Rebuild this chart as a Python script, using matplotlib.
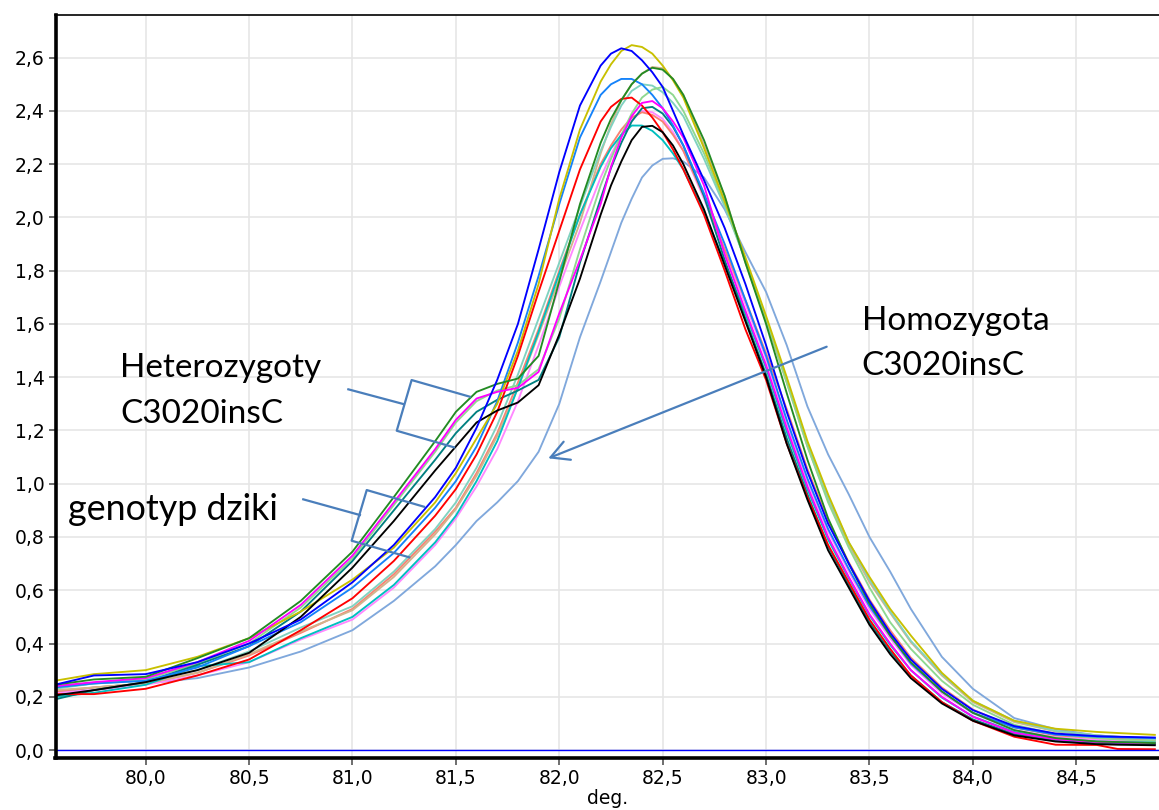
import matplotlib
matplotlib.use("Agg")
import matplotlib.pyplot as plt

# melting temperature grid (deg) shared by all curves
temp = [79.56, 79.75, 80.0, 80.25, 80.5, 80.75, 81.0, 81.2, 81.4, 81.5,
        81.6, 81.7, 81.8, 81.9, 82.0, 82.1, 82.2, 82.25, 82.3, 82.35,
        82.4, 82.45, 82.5, 82.55, 82.6, 82.7, 82.8, 82.9, 83.0, 83.1,
        83.2, 83.3, 83.4, 83.5, 83.6, 83.7, 83.85, 84.0, 84.2, 84.4,
        84.6, 84.7, 84.88]

# -dF/dT for each sample
blue = [0.245, 0.28, 0.285, 0.33, 0.40, 0.49, 0.63, 0.77, 0.95, 1.06,
        1.21, 1.39, 1.60, 1.88, 2.17, 2.42, 2.57, 2.615, 2.635, 2.625,
        2.59, 2.545, 2.49, 2.40, 2.31, 2.14, 1.96, 1.75, 1.52, 1.27,
        1.045, 0.85, 0.70, 0.56, 0.44, 0.34, 0.23, 0.15, 0.09, 0.062,
        0.052, 0.05, 0.047]
olive = [0.26, 0.285, 0.30, 0.35, 0.42, 0.52, 0.64, 0.76, 0.93, 1.04,
         1.17, 1.30, 1.50, 1.75, 2.07, 2.33, 2.51, 2.575, 2.625, 2.647,
         2.64, 2.615, 2.57, 2.515, 2.45, 2.26, 2.06, 1.85, 1.63, 1.40,
         1.16, 0.96, 0.78, 0.65, 0.53, 0.43, 0.29, 0.185, 0.11, 0.08,
         0.068, 0.064, 0.057]
dodger = [0.235, 0.25, 0.26, 0.31, 0.39, 0.48, 0.61, 0.74, 0.91, 1.01,
          1.14, 1.31, 1.53, 1.78, 2.05, 2.30, 2.46, 2.50, 2.52, 2.52,
          2.50, 2.46, 2.41, 2.345, 2.27, 2.09, 1.90, 1.69, 1.48, 1.24,
          1.02, 0.83, 0.68, 0.54, 0.43, 0.325, 0.22, 0.14, 0.085, 0.058,
          0.05, 0.048, 0.045]
red = [0.21, 0.21, 0.23, 0.28, 0.34, 0.45, 0.57, 0.71, 0.88, 0.98,
       1.11, 1.27, 1.48, 1.72, 1.95, 2.18, 2.36, 2.415, 2.445, 2.45,
       2.42, 2.375, 2.32, 2.255, 2.18, 2.01, 1.80, 1.58, 1.39, 1.15,
       0.95, 0.77, 0.63, 0.49, 0.38, 0.28, 0.18, 0.11, 0.05, 0.02,
       0.019, 0.004, 0.003]
salmon = [0.22, 0.235, 0.25, 0.29, 0.355, 0.44, 0.53, 0.66, 0.82, 0.91,
          1.04, 1.19, 1.38, 1.58, 1.80, 2.01, 2.20, 2.27, 2.33, 2.375,
          2.395, 2.385, 2.36, 2.31, 2.25, 2.08, 1.88, 1.69, 1.49, 1.28,
          1.055, 0.86, 0.705, 0.565, 0.45, 0.347, 0.235, 0.152, 0.085, 0.055,
          0.045, 0.042, 0.038]
pink = [0.215, 0.225, 0.245, 0.28, 0.33, 0.415, 0.49, 0.61, 0.77, 0.87,
        0.99, 1.13, 1.31, 1.52, 1.74, 1.95, 2.15, 2.235, 2.31, 2.365,
        2.40, 2.395, 2.37, 2.32, 2.25, 2.07, 1.87, 1.675, 1.47, 1.23,
        1.01, 0.82, 0.67, 0.53, 0.42, 0.32, 0.213, 0.138, 0.075, 0.048,
        0.038, 0.035, 0.032]
cyan = [0.20, 0.215, 0.245, 0.315, 0.33, 0.42, 0.50, 0.62, 0.78, 0.88,
        1.01, 1.16, 1.36, 1.57, 1.79, 2.01, 2.19, 2.26, 2.31, 2.345,
        2.345, 2.325, 2.29, 2.24, 2.18, 2.02, 1.83, 1.64, 1.435, 1.195,
        0.98, 0.79, 0.645, 0.505, 0.395, 0.30, 0.197, 0.126, 0.068, 0.042,
        0.032, 0.03, 0.028]
aqua = [0.23, 0.25, 0.26, 0.30, 0.37, 0.46, 0.54, 0.67, 0.83, 0.93,
        1.06, 1.22, 1.41, 1.62, 1.83, 2.04, 2.25, 2.34, 2.42, 2.475,
        2.50, 2.495, 2.47, 2.43, 2.38, 2.22, 2.04, 1.84, 1.62, 1.39,
        1.15, 0.95, 0.78, 0.64, 0.52, 0.41, 0.285, 0.185, 0.11, 0.072,
        0.055, 0.05, 0.04]
tan = [0.225, 0.235, 0.25, 0.29, 0.36, 0.445, 0.525, 0.65, 0.81, 0.905,
       1.03, 1.18, 1.36, 1.56, 1.77, 1.98, 2.24, 2.35, 2.44, 2.50,
       2.54, 2.565, 2.56, 2.52, 2.46, 2.27, 2.08, 1.83, 1.61, 1.38,
       1.14, 0.94, 0.77, 0.63, 0.515, 0.405, 0.28, 0.18, 0.105, 0.07,
       0.055, 0.05, 0.04]
green = [0.245, 0.265, 0.275, 0.345, 0.42, 0.56, 0.745, 0.95, 1.16, 1.27,
         1.345, 1.375, 1.395, 1.48, 1.76, 2.05, 2.28, 2.37, 2.44, 2.50,
         2.54, 2.562, 2.555, 2.52, 2.46, 2.29, 2.08, 1.83, 1.60, 1.34,
         1.09, 0.87, 0.70, 0.55, 0.43, 0.33, 0.22, 0.14, 0.075, 0.045,
         0.032, 0.03, 0.026]
magenta = [0.24, 0.255, 0.27, 0.33, 0.41, 0.545, 0.73, 0.93, 1.13, 1.24,
           1.32, 1.345, 1.36, 1.42, 1.64, 1.84, 2.05, 2.19, 2.30, 2.38,
           2.43, 2.437, 2.41, 2.36, 2.30, 2.12, 1.86, 1.65, 1.445, 1.21,
           0.99, 0.80, 0.65, 0.51, 0.40, 0.30, 0.20, 0.125, 0.065, 0.04,
           0.03, 0.028, 0.025]
lightgreen = [0.235, 0.25, 0.265, 0.325, 0.40, 0.535, 0.72, 0.92, 1.12, 1.23,
              1.31, 1.35, 1.37, 1.43, 1.62, 1.88, 2.12, 2.22, 2.31, 2.39,
              2.45, 2.48, 2.49, 2.46, 2.40, 2.24, 2.05, 1.84, 1.62, 1.38,
              1.14, 0.93, 0.76, 0.61, 0.48, 0.38, 0.26, 0.17, 0.095, 0.06,
              0.045, 0.04, 0.033]
teal = [0.19, 0.225, 0.255, 0.32, 0.39, 0.52, 0.71, 0.90, 1.09, 1.19,
        1.27, 1.315, 1.35, 1.39, 1.55, 1.83, 2.07, 2.185, 2.28, 2.36,
        2.41, 2.415, 2.39, 2.34, 2.27, 2.08, 1.84, 1.62, 1.41, 1.17,
        0.96, 0.765, 0.62, 0.48, 0.37, 0.28, 0.18, 0.115, 0.06, 0.036,
        0.027, 0.025, 0.022]
black = [0.205, 0.225, 0.255, 0.30, 0.365, 0.50, 0.685, 0.86, 1.05, 1.14,
         1.23, 1.275, 1.305, 1.37, 1.56, 1.77, 2.01, 2.12, 2.21, 2.29,
         2.34, 2.344, 2.32, 2.27, 2.20, 2.03, 1.82, 1.61, 1.40, 1.15,
         0.94, 0.75, 0.61, 0.47, 0.36, 0.27, 0.175, 0.11, 0.055, 0.032,
         0.022, 0.02, 0.018]
homozygote = [0.215, 0.235, 0.25, 0.27, 0.31, 0.37, 0.45, 0.56, 0.69, 0.77,
              0.86, 0.93, 1.01, 1.12, 1.30, 1.55, 1.76, 1.87, 1.98, 2.07,
              2.15, 2.195, 2.22, 2.222, 2.21, 2.15, 2.03, 1.87, 1.72, 1.52,
              1.29, 1.11, 0.96, 0.80, 0.67, 0.53, 0.35, 0.23, 0.12, 0.078,
              0.055, 0.048, 0.04]

xticks = [80.0, 80.5, 81.0, 81.5, 82.0, 82.5, 83.0, 83.5, 84.0, 84.5]
yticks = [0.0, 0.2, 0.4, 0.6, 0.8, 1.0, 1.2, 1.4, 1.6, 1.8, 2.0, 2.2, 2.4, 2.6]

# back to front
series = [
    (homozygote, "#80a8dc"),
    (pink, "#ff88ff"),
    (salmon, "#fa8072"),
    (tan, "#d2b48c"),
    (aqua, "#80d2c0"),
    (lightgreen, "#8fd88f"),
    (cyan, "#00bfbf"),
    (teal, "#008080"),
    (dodger, "#1482fa"),
    (olive, "#c8c000"),
    (red, "#ff0000"),
    (magenta, "#ff00ff"),
    (green, "#238b23"),
    (black, "#000000"),
    (blue, "#0000ff"),
]

fig = plt.figure(figsize=(11.59, 8.10), dpi=100)
ax = fig.add_axes([55.5 / 1159, 52.5 / 810, 1 - 55.5 / 1159, 742.2 / 810])

for vals, col in series:
    ax.plot(temp, vals, color=col, lw=1.35, solid_joinstyle="round")
ax.axhline(0.0, color="#0000ff", lw=1.0)

ax.set_xlim(79.564, 84.90)
ax.set_ylim(-0.028, 2.759)
ax.set_xticks(xticks)
ax.set_yticks(yticks)
ax.set_xticklabels([f"{v:.1f}".replace(".", ",") for v in xticks])
ax.set_yticklabels([f"{v:.1f}".replace(".", ",") for v in yticks])
ax.tick_params(direction="out", length=5, width=1.2, color="#555555",
               labelsize=13.5, pad=3)
ax.set_xlabel("deg.", fontsize=13.5, labelpad=1)

ax.grid(True, color="#e6e6e6", lw=1.2)
ax.set_axisbelow(True)
ax.spines["left"].set_linewidth(2.6)
ax.spines["bottom"].set_linewidth(2.6)
ax.spines["top"].set_linewidth(1.2)
ax.spines["right"].set_visible(False)

# annotation brackets
note = "#4a7ebb"
def bracket(stem, top, bottom, top_end, bottom_end):
    ax.plot([stem[0], stem[2]], [stem[1], stem[3]], color=note, lw=1.6)
    ax.plot([top_end[0], top[0], bottom[0], bottom_end[0]],
            [top_end[1], top[1], bottom[1], bottom_end[1]], color=note, lw=1.6)

bracket((80.980, 1.3545, 81.246, 1.2993), (81.286, 1.3894), (81.214, 1.199),
        (81.568, 1.3267), (81.491, 1.1367))
bracket((80.762, 0.9414, 81.036, 0.8825), (81.069, 0.9763), (80.996, 0.786),
        (81.346, 0.9136), (81.275, 0.7236))

ax.annotate("", xy=(81.947, 1.0954), xytext=(83.293, 1.5145),
            arrowprops=dict(arrowstyle="->,head_length=1.3,head_width=0.7",
                            color=note, lw=1.6, shrinkA=0, shrinkB=0))

txt = dict(fontsize=24, family="Lato", color="black", va="baseline", ha="left")
ax.text(79.876, 1.4007, "Heterozygoty", **txt)
ax.text(79.876, 1.228, "C3020insC", **txt)
ax.text(79.624, 0.864, "genotyp dziki", **{**txt, "fontsize": 25.8})
ax.text(83.462, 1.577, "Homozygota", **txt)
ax.text(83.462, 1.408, "C3020insC", **txt)

fig.savefig("out.png", dpi=100)
